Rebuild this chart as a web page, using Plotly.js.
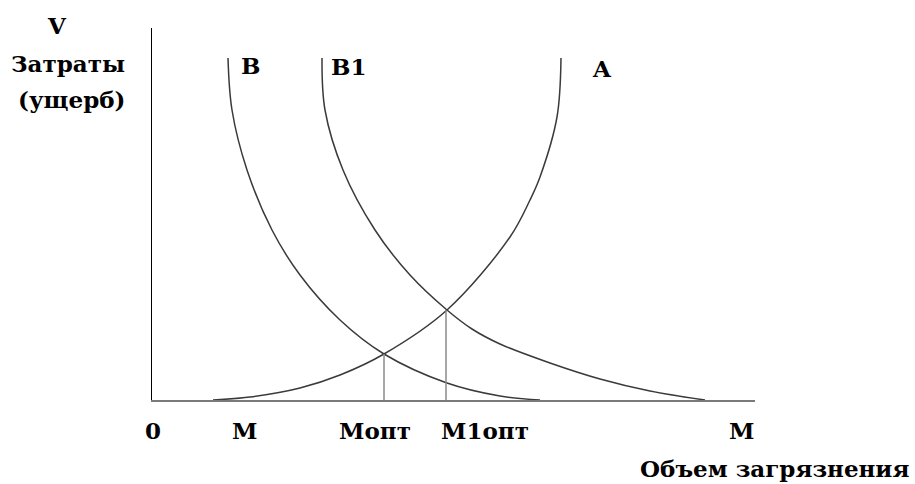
<!DOCTYPE html>
<html>
<head>
<meta charset="utf-8">
<script src="https://cdn.plot.ly/plotly-3.0.1.min.js"></script>
<style>html,body{margin:0;padding:0;background:#fff;}#chart{width:915px;height:484px;}</style>
</head>
<body>
<div id="chart"></div>
<script>
// Curve values (x: pollution volume, y: cost/damage)
const curveBX = [76, 80, 95, 120, 148, 188, 232, 295, 348, 388];
const curveBY = [342, 290, 230, 170, 125, 80, 46, 17, 4, 0];
const curveB1X = [170, 173, 191, 223, 258, 295, 320, 348, 398, 448, 498, 553];
const curveB1Y = [342, 290, 230, 170, 125, 90, 71, 56, 37, 21, 9, 0];
const curveAX = [61, 98, 148, 188, 232, 295, 358, 378, 388, 405, 409];
const curveAY = [0, 3, 12, 25, 46, 90, 163, 200, 223, 283, 342];
// Optimum points (intersections)
const optX = [232, 294];
const optY = [46, 90];
// Labels
const curveLabels = ["B", "B1", "A"];
const curveLabelX = [98, 196, 450];
const curveLabelY = [335, 334, 332];
const xTickLabels = ["0", "M", "Мопт", "M1опт", "M"];
const xTickPos = [1, 92, 223, 333, 589];
const yLabelLines = ["V", "Затраты", "(ущерб)"];
const xAxisTitle = "Объем загрязнения";

const X_MAX = 603, Y_MAX = 372;
const curveColor = "#3a3a3a";
const fontBase = {family: "'DejaVu Serif', 'Liberation Serif', serif", size: 23, color: "#000", weight: "bold"};

const traces = [
  {x: curveBX, y: curveBY, mode: "lines", line: {color: curveColor, width: 1.5, shape: "spline"}, hoverinfo: "skip"},
  {x: curveB1X, y: curveB1Y, mode: "lines", line: {color: curveColor, width: 1.5, shape: "spline"}, hoverinfo: "skip"},
  {x: curveAX, y: curveAY, mode: "lines", line: {color: curveColor, width: 1.5, shape: "spline"}, hoverinfo: "skip"}
];
optX.forEach((ox, i) => {
  traces.push({x: [ox, ox], y: [0, optY[i]], mode: "lines", line: {color: "#8a8a8a", width: 1.5}, hoverinfo: "skip"});
});

function ann(text, dx, dy) {
  return {x: dx / X_MAX, y: dy / Y_MAX, xref: "paper", yref: "paper", text: text,
          showarrow: false, font: fontBase, xanchor: "center", yanchor: "middle"};
}
const annotations = [];
curveLabels.forEach((t, i) => annotations.push(ann(t, curveLabelX[i], curveLabelY[i])));
xTickLabels.forEach((t, i) => annotations.push(ann(t, xTickPos[i], -30)));
annotations.push(ann(yLabelLines[0], -95, 375));
annotations.push(ann(yLabelLines[1], -84, 337));
annotations.push(ann(yLabelLines[2], -81, 301));
annotations.push(ann(xAxisTitle, 622, -68));

const layout = {
  width: 915, height: 484,
  margin: {l: 152, r: 160, t: 28, b: 84},
  paper_bgcolor: "#fff", plot_bgcolor: "#fff",
  showlegend: false,
  xaxis: {range: [0, X_MAX], showgrid: false, zeroline: false, showticklabels: false, ticks: "",
          showline: true, linecolor: "#7a7a7a", linewidth: 2, fixedrange: true},
  yaxis: {range: [0, Y_MAX], showgrid: false, zeroline: false, showticklabels: false, ticks: "",
          showline: true, linecolor: "#000", linewidth: 1.5, fixedrange: true},
  annotations: annotations
};
Plotly.newPlot("chart", traces, layout, {staticPlot: true, displayModeBar: false});
</script>
</body>
</html>
